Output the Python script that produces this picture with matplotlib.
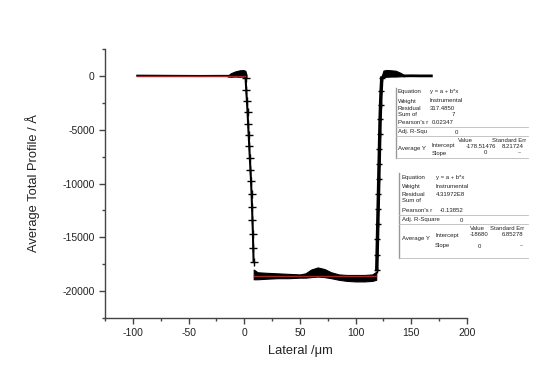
import matplotlib
matplotlib.use("Agg")
import matplotlib.pyplot as plt
from matplotlib.lines import Line2D
from matplotlib.ticker import MultipleLocator

plt.rcParams['font.family'] = ['Liberation Sans', 'DejaVu Sans']
plt.rcParams['axes.unicode_minus'] = False

# profile (lateral in um, height in Angstrom)
flat_left_x = [-96, -77, -60, -40, -20, -14]
flat_left_y = [20, 10, 0, -10, 0, 0]

bump_left_x = [-15, -12, -8, -4, -1, 1, 2]
bump_left_hi = [0, 250, 420, 520, 540, 480, 100]
bump_left_lo = [-60, -80, -60, -80, -60, -100, -150]

wall_left_x = [1.2, 1.8, 2.4, 3.0, 3.5, 4.0, 4.5, 5.0, 5.6, 6.1, 6.6, 7.0, 7.4, 7.8, 8.1, 8.4]
wall_left_y = [-200, -1300, -2300, -3400, -4500, -5500, -6500, -7600, -8700, -9800,
               -11000, -12200, -13400, -14700, -16000, -17300]

bottom_x = [8.5, 12, 20, 30, 40, 50, 55, 60, 66, 72, 78, 85, 92, 100, 108, 115, 118.5]
bottom_hi = [-18000, -18250, -18300, -18350, -18400, -18450, -18350, -18000, -17800,
             -17950, -18250, -18450, -18500, -18500, -18500, -18450, -18200]
bottom_lo = [-18900, -18900, -18850, -18800, -18800, -18750, -18750, -18700, -18650,
             -18700, -18800, -18950, -19050, -19100, -19100, -19050, -18950]

wall_right_x = [119.0, 119.3, 119.6, 119.9, 120.2, 120.5, 120.8, 121.1, 121.4, 121.7, 122.0, 122.4, 122.9, 123.5]
wall_right_y = [-18000, -16600, -15200, -13800, -12400, -11000, -9600, -8200, -6800,
                -5400, -4000, -2700, -1400, -200]

bump_right_x = [123.5, 125, 128, 132, 136, 140, 144]
bump_right_hi = [0, 500, 550, 520, 480, 300, 50]
bump_right_lo = [-150, -100, -80, -60, -60, -40, -20]

flat_right_x = [144, 150, 158, 168]
flat_right_y = [0, 10, 0, 0]

# linear fits (Average Y)
fit_top_x = [-96, 1]
fit_top_y = [0, 0]
fit_bot_x = [8.5, 118.5]
fit_bot_y = [-18600, -18600]

table1 = [
    (92, [(398, "Equation"), (430, "y = a + b*x")]),
    (101, [(398, "Weight"), (430, "Instrumental")]),
    (109, [(398, "Residual"), (430, "317.4850")]),
    (115, [(398, "Sum of"), (452, "7")]),
    (123, [(398, "Pearson's r"), (432, "0.02347")]),
    (132, [(398, "Adj. R-Squ"), (455, "0")]),
    (140, [(458, "Value"), (492, "Standard Err")]),
    (146, [(432, "Intercept"), (466, "-178.51476"), (502, "8.21724")]),
    (149, [(398, "Average Y")]),
    (153, [(432, "Slope"), (484, "0"), (518, "--")]),
]
table2 = [
    (177, [(402, "Equation"), (436, "y = a + b*x")]),
    (186, [(402, "Weight"), (436, "Instrumental")]),
    (194, [(402, "Residual"), (436, "4.31972E8")]),
    (200, [(402, "Sum of")]),
    (211, [(402, "Pearson's r"), (440, "-0.13852")]),
    (220, [(402, "Adj. R-Square"), (460, "0")]),
    (228, [(470, "Value"), (490, "Standard Err")]),
    (235, [(435, "Intercept"), (470, "-18680"), (502, "6.85278")]),
    (239, [(402, "Average Y")]),
    (246, [(435, "Slope"), (478, "0"), (520, "--")]),
]

W, H = 544, 376
fig = plt.figure(figsize=(W / 100, H / 100), dpi=100)
ax = fig.add_axes([105 / W, 1 - 318 / H, 362 / W, 269 / H])

ink = "black"
ax.plot(flat_left_x, flat_left_y, color=ink, lw=1.5)
ax.fill_between(bump_left_x, bump_left_lo, bump_left_hi, color=ink, lw=0.8)
ax.plot(wall_left_x, wall_left_y, color=ink, lw=1.5, marker="+", ms=6, mew=1)
ax.fill_between(bottom_x, bottom_lo, bottom_hi, color=ink, lw=0.8)
ax.plot(wall_right_x, wall_right_y, color=ink, lw=2.5, marker="+", ms=5, mew=1)
ax.fill_between(bump_right_x, bump_right_lo, bump_right_hi, color=ink, lw=0.8)
ax.plot(flat_right_x, flat_right_y, color=ink, lw=2)

fit_col = "#a02828"
ax.plot(fit_top_x, fit_top_y, color=fit_col, lw=1)
ax.plot(fit_bot_x, fit_bot_y, color=fit_col, lw=1)

ax.set_xlim(-125, 200)
ax.set_ylim(-22500, 2500)
ax.xaxis.set_major_locator(MultipleLocator(50))
ax.xaxis.set_minor_locator(MultipleLocator(25))
ax.yaxis.set_major_locator(MultipleLocator(5000))
ax.yaxis.set_minor_locator(MultipleLocator(2500))
for s in ["top", "right"]:
    ax.spines[s].set_visible(False)
for s in ["left", "bottom"]:
    ax.spines[s].set_color("#444444")
    ax.spines[s].set_linewidth(1)
ax.tick_params(which="major", direction="out", length=4, width=1, color="#444444",
               labelsize=7.5, labelcolor="#222222")
ax.tick_params(which="minor", direction="out", length=2.5, width=1, color="#444444")
ax.set_ylabel("Average Total Profile / Å", fontsize=9.3, color="#222222")
ax.set_xlabel("Lateral /μm", fontsize=9.3, color="#222222")
ax.yaxis.set_label_coords((40 - 105) / 362, 0.5)
ax.xaxis.set_label_coords((300 - 105) / 362, -(345 - 318) / 269)


def draw_table(rows, left, top, bottom, hlines):
    for py, cells in rows:
        for px, txt in cells:
            fig.text(px / W, 1 - py / H, txt, fontsize=4.3, va="center", ha="left", color="#222222")
    fig.add_artist(Line2D([left / W, left / W], [1 - top / H, 1 - bottom / H],
                          color="#999999", lw=1))
    for hy in hlines:
        fig.add_artist(Line2D([left / W, 528 / W], [1 - hy / H, 1 - hy / H],
                              color="#bbbbbb", lw=0.6))


draw_table(table1, 396, 88, 158, [127, 136, 158])
draw_table(table2, 399, 173, 258, [215, 224, 258])

fig.savefig("out.png", dpi=100)
